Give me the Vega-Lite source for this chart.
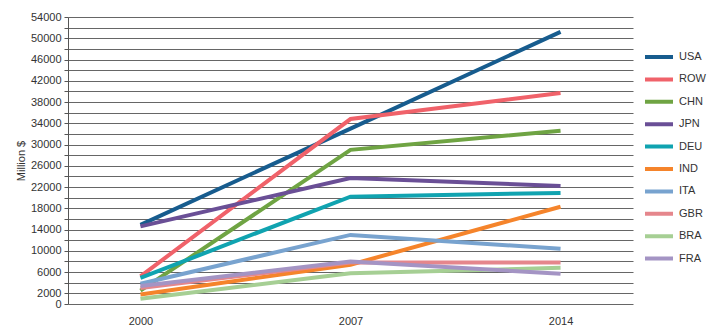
{
  "$schema": "https://vega.github.io/schema/vega-lite/v6.json",
  "width": 565,
  "height": 287,
  "autosize": {"type": "none"},
  "padding": {"left": 68, "top": 17, "right": 75, "bottom": 23},
  "background": "white",
  "config": {
    "view": {"stroke": null},
    "font": "Liberation Sans"
  },
  "data": {
    "values": [
      {"year": "2000", "country": "USA", "value": 14900},
      {"year": "2007", "country": "USA", "value": 33000},
      {"year": "2014", "country": "USA", "value": 51200},
      {"year": "2000", "country": "ROW", "value": 5200},
      {"year": "2007", "country": "ROW", "value": 34800},
      {"year": "2014", "country": "ROW", "value": 39700},
      {"year": "2000", "country": "CHN", "value": 2500},
      {"year": "2007", "country": "CHN", "value": 29000},
      {"year": "2014", "country": "CHN", "value": 32600},
      {"year": "2000", "country": "JPN", "value": 14600},
      {"year": "2007", "country": "JPN", "value": 23700},
      {"year": "2014", "country": "JPN", "value": 22200},
      {"year": "2000", "country": "DEU", "value": 4900},
      {"year": "2007", "country": "DEU", "value": 20200},
      {"year": "2014", "country": "DEU", "value": 20900},
      {"year": "2000", "country": "IND", "value": 1800},
      {"year": "2007", "country": "IND", "value": 7400},
      {"year": "2014", "country": "IND", "value": 18300},
      {"year": "2000", "country": "ITA", "value": 3800},
      {"year": "2007", "country": "ITA", "value": 13000},
      {"year": "2014", "country": "ITA", "value": 10400},
      {"year": "2000", "country": "GBR", "value": 3000},
      {"year": "2007", "country": "GBR", "value": 7800},
      {"year": "2014", "country": "GBR", "value": 7800},
      {"year": "2000", "country": "BRA", "value": 1000},
      {"year": "2007", "country": "BRA", "value": 5800},
      {"year": "2014", "country": "BRA", "value": 6800},
      {"year": "2000", "country": "FRA", "value": 3400},
      {"year": "2007", "country": "FRA", "value": 8000},
      {"year": "2014", "country": "FRA", "value": 5700}
    ]
  },
  "mark": {"type": "line", "strokeWidth": 4, "strokeCap": "butt"},
  "encoding": {
    "x": {
      "field": "year",
      "type": "ordinal",
      "scale": {"type": "point", "padding": 0.345},
      "axis": {
        "title": null,
        "labelAngle": 0,
        "ticks": false,
        "domain": false,
        "grid": false,
        "labelPadding": 11,
        "labelFontSize": 11,
        "labelColor": "#333"
      }
    },
    "y": {
      "field": "value",
      "type": "quantitative",
      "scale": {"domain": [0, 54000], "nice": false, "zero": true},
      "axis": {
        "title": "Million $",
        "titleFontSize": 11,
        "titleFontWeight": "normal",
        "titleColor": "#333",
        "titlePadding": 4,
        "values": [0, 2000, 4000, 6000, 8000, 10000, 12000, 14000, 16000, 18000, 20000, 22000, 24000, 26000, 28000, 30000, 32000, 34000, 36000, 38000, 40000, 42000, 44000, 46000, 48000, 50000, 52000, 54000],
        "labelExpr": "(datum.value == 0 || (datum.value - 2000) % 4000 == 0) ? datum.value : ''",
        "labelOverlap": false,
        "labelFontSize": 11,
        "labelColor": "#333",
        "labelPadding": 3,
        "tickSize": 4,
        "tickColor": "#555",
        "domainColor": "#555",
        "gridColor": "#666",
        "gridWidth": 1
      }
    },
    "color": {
      "field": "country",
      "type": "nominal",
      "sort": ["USA", "ROW", "CHN", "JPN", "DEU", "IND", "ITA", "GBR", "BRA", "FRA"],
      "scale": {
        "domain": ["USA", "ROW", "CHN", "JPN", "DEU", "IND", "ITA", "GBR", "BRA", "FRA"],
        "range": ["#175c8e", "#f0626a", "#6fa443", "#6a4f96", "#10a3b0", "#f5842b", "#78a3cf", "#e5868c", "#a6cf94", "#a494c4"]
      },
      "legend": {
        "title": null,
        "orient": "none",
        "legendX": 575,
        "legendY": 32,
        "symbolType": "stroke",
        "symbolSize": 784,
        "symbolStrokeWidth": 4,
        "clipHeight": 16,
        "rowPadding": 6.4,
        "labelFontSize": 11,
        "labelColor": "#333",
        "labelOffset": 4
      }
    }
  }
}
